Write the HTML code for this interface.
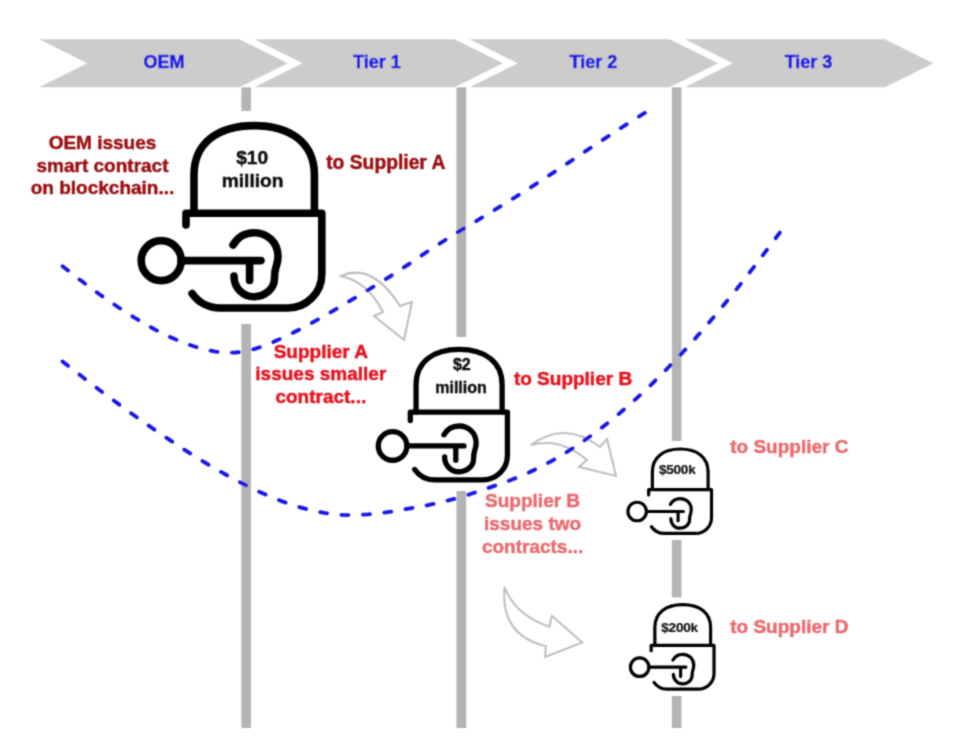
<!DOCTYPE html>
<html><head><meta charset="utf-8"><style>
html,body{margin:0;padding:0;background:#fff;}
body{width:960px;height:742px;overflow:hidden;}
svg{display:block;}

text{font-family:"Liberation Sans",sans-serif;font-weight:bold;stroke-width:0.45;stroke-linejoin:round;}
.hd{font-size:18px;fill:#1414e6;stroke:#1414e6;text-anchor:middle;}
.lk1{font-size:19.2px;fill:#111;stroke:#111;}
.lk2{font-size:16px;fill:#111;stroke:#111;}
.lk3{font-size:13.6px;letter-spacing:-0.25px;fill:#111;stroke:#111;stroke-width:0.2;}
.dr{font-size:19px;fill:#9a0c10;stroke:#9a0c10;}
.br{font-size:19px;fill:#e5121c;stroke:#e5121c;}
.sm{font-size:19px;fill:#ea6a6e;stroke:#ea6a6e;}
.dash{fill:none;stroke:#1414e6;stroke-width:3.8;stroke-dasharray:7 14.49;stroke-linecap:round;}
.arr{fill:none;stroke:#bdbdbd;stroke-width:2;stroke-linejoin:miter;}
</style></head><body>
<svg width="960" height="742" viewBox="0 0 960 742">
<defs><filter id="bl" x="0" y="0" width="960" height="742" filterUnits="userSpaceOnUse"><feConvolveMatrix order="3" kernelMatrix="0.0361 0.1178 0.0361 0.1178 0.3846 0.1178 0.0361 0.1178 0.0361" edgeMode="duplicate"/></filter></defs><rect width="960" height="742" fill="#fff"/><g filter="url(#bl)">
<polygon fill="#cccccc" points="39.3,39.3 239.3,39.3 287.7,63.3 239.3,87.3 39.3,87.3 87.3,63.3"/>
<polygon fill="#cccccc" points="254.5,39.3 454.5,39.3 502.9,63.3 454.5,87.3 254.5,87.3 302.5,63.3"/>
<polygon fill="#cccccc" points="469.7,39.3 669.7,39.3 718.1,63.3 669.7,87.3 469.7,87.3 517.7,63.3"/>
<polygon fill="#cccccc" points="684.9,39.3 884.9,39.3 933.3,63.3 884.9,87.3 684.9,87.3 732.9,63.3"/>
<text x="164.0" y="68.2" class="hd">OEM</text>
<text x="376.9" y="68.2" class="hd">Tier 1</text>
<text x="593.4" y="68.2" class="hd">Tier 2</text>
<text x="808.5" y="68.2" class="hd">Tier 3</text>
<rect x="241.4" y="87.3" width="9.6" height="23.7" fill="#b4b4b4"/>
<rect x="241.4" y="324.0" width="9.6" height="404.0" fill="#b4b4b4"/>
<rect x="456.5" y="87.3" width="9.6" height="249.7" fill="#b4b4b4"/>
<rect x="456.5" y="491.0" width="9.6" height="237.0" fill="#b4b4b4"/>
<rect x="671.9" y="87.3" width="9.6" height="353.7" fill="#b4b4b4"/>
<rect x="671.9" y="540.0" width="9.6" height="57.4" fill="#b4b4b4"/>
<rect x="671.9" y="696.0" width="9.6" height="32.0" fill="#b4b4b4"/>
<path class="arr" d="M341,276 Q372,262 400,306 L412,302 L404,340 L374,316 L383,312 Q368,282 341,276 Z"/>
<path class="arr" d="M531,445 Q565,420 600,447 L607,439 L616,476 L579,467 L587,460 Q560,437 531,445 Z"/>
<path class="arr" d="M504.6,587.3 Q500,635 545.8,646.1 L545.2,657 L582.2,642.5 L551.9,615.8 L549.4,626.7 Q515,615 504.6,587.3 Z"/>
<path class="dash" stroke-dashoffset="-1.57" d="M61.3,265.3 L66.7,269.5 L72.1,273.8 L77.5,278.0 L83.0,282.1 L88.5,286.2 L94.0,290.3 L99.5,294.3 L105.1,298.2 L110.7,302.1 L116.4,306.0 L122.1,309.8 L127.8,313.5 L133.6,317.1 L139.5,320.7 L145.3,324.1 L151.3,327.5 L157.3,330.8 L163.4,333.9 L169.6,336.8 L175.9,339.6 L182.2,342.2 L188.7,344.6 L195.3,346.8 L201.9,348.7 L208.6,350.3 L215.4,351.6 L222.2,352.4 L229.0,352.8 L235.7,352.5 L242.4,351.8 L249.0,350.4 L255.6,348.6 L262.1,346.5 L268.5,344.0 L274.8,341.3 L281.1,338.5 L287.3,335.6 L293.5,332.5 L299.6,329.4 L305.7,326.2 L311.7,323.0 L317.7,319.7 L323.7,316.3 L329.6,312.9 L335.5,309.4 L341.4,305.9 L347.3,302.4 L353.2,298.9 L359.1,295.4 L364.9,291.9 L370.8,288.3 L376.6,284.8 L382.4,281.2 L388.2,277.6 L394.0,273.9 L399.7,270.2 L405.4,266.4 L411.1,262.6 L416.7,258.7 L422.4,254.9 L428.0,251.1 L433.8,247.3 L439.5,243.7 L445.3,240.0 L451.1,236.4 L456.9,232.8 L462.8,229.2 L468.6,225.7 L474.5,222.1 L480.3,218.6 L486.2,215.0 L492.0,211.5 L497.9,207.9 L503.7,204.3 L509.5,200.7 L515.4,197.1 L521.1,193.5 L526.9,189.8 L532.7,186.1 L538.4,182.4 L544.2,178.6 L549.9,174.9 L555.6,171.1 L561.3,167.3 L567.0,163.6 L572.7,159.8 L578.4,156.0 L584.1,152.2 L589.8,148.4 L595.5,144.6 L601.2,140.9 L607.0,137.1 L612.7,133.4 L618.4,129.6 L624.2,125.9 L630.0,122.2 L635.8,118.6 L641.6,114.9 L647.4,111.3"/>
<path class="dash" stroke-dashoffset="-1.94" d="M61.0,360.2 L67.8,365.6 L74.7,371.0 L81.7,376.3 L88.6,381.7 L95.6,387.0 L102.6,392.3 L109.7,397.5 L116.8,402.8 L123.9,407.9 L131.0,413.1 L138.1,418.2 L145.3,423.3 L152.5,428.3 L159.7,433.3 L167.0,438.2 L174.3,443.1 L181.6,447.9 L188.9,452.6 L196.4,457.3 L203.8,461.9 L211.3,466.4 L218.9,470.8 L226.6,475.0 L234.3,479.2 L242.1,483.3 L250.0,487.3 L257.9,491.1 L266.0,494.7 L274.1,498.2 L282.3,501.4 L290.5,504.3 L298.9,507.0 L307.3,509.3 L315.8,511.3 L324.3,512.9 L332.9,514.1 L341.6,514.8 L350.3,515.1 L359.1,514.9 L367.9,514.4 L376.7,513.5 L385.6,512.4 L394.4,511.1 L403.1,509.6 L411.8,508.1 L420.4,506.5 L429.0,504.9 L437.5,503.1 L445.9,501.1 L454.3,498.9 L462.7,496.5 L471.1,493.8 L479.5,491.1 L487.8,488.2 L496.2,485.3 L504.5,482.4 L512.7,479.3 L520.8,476.0 L528.9,472.5 L536.8,468.7 L544.6,464.8 L552.3,460.6 L559.9,456.2 L567.4,451.7 L574.8,446.9 L582.0,442.1 L589.2,437.0 L596.3,431.8 L603.3,426.5 L610.2,421.1 L616.9,415.5 L623.6,409.8 L630.3,404.0 L636.8,398.1 L643.2,392.1 L649.6,386.1 L655.9,379.9 L662.1,373.7 L668.3,367.5 L674.4,361.1 L680.4,354.8 L686.3,348.3 L692.2,341.8 L698.0,335.3 L703.8,328.7 L709.5,322.0 L715.2,315.3 L720.8,308.6 L726.4,301.8 L731.9,295.0 L737.4,288.1 L742.8,281.2 L748.2,274.3 L753.6,267.4 L758.9,260.4 L764.2,253.4 L769.5,246.4 L774.8,239.4 L780.0,232.3"/>
<g transform="translate(137.30 121.50) scale(1.0000) translate(-137.3 -121.5)"><g fill="none" stroke="#000" stroke-width="7.6" stroke-linecap="round" stroke-linejoin="round">
<path d="M194,213 V175 C194,143 218,125.6 254.2,125.6 C290.4,125.6 314.4,143 314.4,175 V213"/>
<path d="M186,225 V213.3 H321.8 V274 A34,34 0 0 1 287.8,308 H220 A34,34 0 0 1 192.1,293.5"/>
<circle cx="161.2" cy="260.6" r="20"/>
<path d="M181.2,260.6 H261 M249.6,260.6 V280.5"/>
<path d="M233,245 C238,236.5 246,232.7 254,232.7 C268,232.7 278,243 278,256 C278,262 277,264 276,267 C275,270 274.5,273 274.5,278 C274.5,289 265,296.7 254,296.7 C243,296.7 234,288 234,276"/>
</g></g>
<g transform="translate(375.50 346.50) scale(0.7150) translate(-137.3 -121.5)"><g fill="none" stroke="#000" stroke-width="7.4" stroke-linecap="round" stroke-linejoin="round">
<path d="M194,213 V175 C194,143 218,125.6 254.2,125.6 C290.4,125.6 314.4,143 314.4,175 V213"/>
<path d="M186,225 V213.3 H321.8 V274 A34,34 0 0 1 287.8,308 H220 A34,34 0 0 1 192.1,293.5"/>
<circle cx="161.2" cy="260.6" r="20"/>
<path d="M181.2,260.6 H261 M249.6,260.6 V280.5"/>
<path d="M233,245 C238,236.5 246,232.7 254,232.7 C268,232.7 278,243 278,256 C278,262 277,264 276,267 C275,270 274.5,273 274.5,278 C274.5,289 265,296.7 254,296.7 C243,296.7 234,288 234,276"/>
</g></g>
<g transform="translate(626.10 447.10) scale(0.4630) translate(-137.3 -121.5)"><g fill="none" stroke="#000" stroke-width="6.9" stroke-linecap="round" stroke-linejoin="round">
<path d="M194,213 V175 C194,143 218,125.6 254.2,125.6 C290.4,125.6 314.4,143 314.4,175 V213"/>
<path d="M186,225 V213.3 H321.8 V274 A34,34 0 0 1 287.8,308 H220 A34,34 0 0 1 192.1,293.5"/>
<circle cx="161.2" cy="260.6" r="20"/>
<path d="M181.2,260.6 H261 M249.6,260.6 V280.5"/>
<path d="M233,245 C238,236.5 246,232.7 254,232.7 C268,232.7 278,243 278,256 C278,262 277,264 276,267 C275,270 274.5,273 274.5,278 C274.5,289 265,296.7 254,296.7 C243,296.7 234,288 234,276"/>
</g></g>
<g transform="translate(628.60 602.80) scale(0.4630) translate(-137.3 -121.5)"><g fill="none" stroke="#000" stroke-width="6.9" stroke-linecap="round" stroke-linejoin="round">
<path d="M194,213 V175 C194,143 218,125.6 254.2,125.6 C290.4,125.6 314.4,143 314.4,175 V213"/>
<path d="M186,225 V213.3 H321.8 V274 A34,34 0 0 1 287.8,308 H220 A34,34 0 0 1 192.1,293.5"/>
<circle cx="161.2" cy="260.6" r="20"/>
<path d="M181.2,260.6 H261 M249.6,260.6 V280.5"/>
<path d="M233,245 C238,236.5 246,232.7 254,232.7 C268,232.7 278,243 278,256 C278,262 277,264 276,267 C275,270 274.5,273 274.5,278 C274.5,289 265,296.7 254,296.7 C243,296.7 234,288 234,276"/>
</g></g>
<text x="252.2" y="163.9" class="lk1" text-anchor="middle">$10</text>
<text x="252.6" y="186.5" class="lk1" text-anchor="middle">million</text>
<text x="461.8" y="370.2" class="lk2" text-anchor="middle">$2</text>
<text x="461.0" y="393.2" class="lk2" text-anchor="middle">million</text>
<text x="677.2" y="474.0" class="lk3" text-anchor="middle">$500k</text>
<text x="679.6" y="631.7" class="lk3" text-anchor="middle">$200k</text>
<text x="102.5" y="149.1" class="dr" text-anchor="middle">OEM issues</text>
<text x="102.5" y="171.6" class="dr" text-anchor="middle">smart contract</text>
<text x="102.5" y="194.1" class="dr" text-anchor="middle">on blockchain...</text>
<text x="326.2" y="169.3" class="dr" style="font-size:19.3px">to Supplier A</text>
<text x="320.8" y="357.5" class="br" text-anchor="middle">Supplier A</text>
<text x="320.8" y="380.0" class="br" text-anchor="middle">issues smaller</text>
<text x="320.8" y="403.3" class="br" text-anchor="middle">contract...</text>
<text x="513.9" y="384.8" class="br" text-anchor="start">to Supplier B</text>
<text x="532.6" y="507.3" class="sm" text-anchor="middle">Supplier B</text>
<text x="532.6" y="529.7" class="sm" text-anchor="middle">issues two</text>
<text x="532.6" y="552.7" class="sm" text-anchor="middle">contracts...</text>
<text x="730.2" y="453.3" class="sm" text-anchor="start">to Supplier C</text>
<text x="730.2" y="633.3" class="sm" text-anchor="start">to Supplier D</text>
</g></svg>
</body></html>
